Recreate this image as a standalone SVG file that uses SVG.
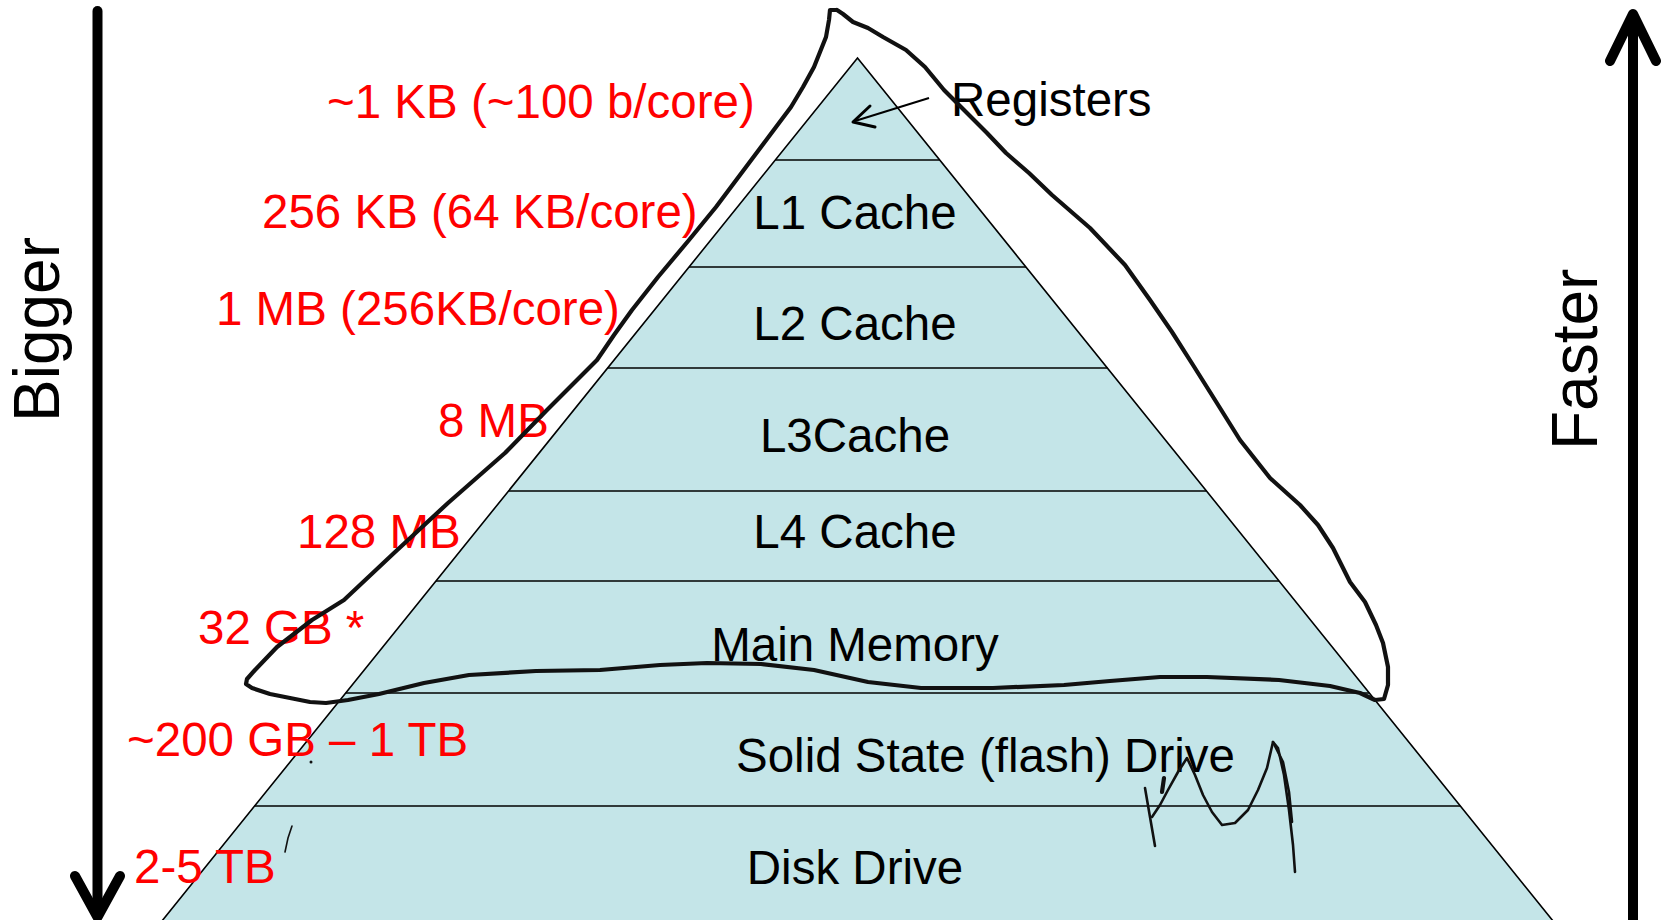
<svg xmlns="http://www.w3.org/2000/svg" width="1661" height="920" viewBox="0 0 1661 920">
<style>
.lbl{font-family:"Liberation Sans",Arial,sans-serif;font-size:47.5px;fill:#000}
.red{font-family:"Liberation Sans",Arial,sans-serif;font-size:47.5px;fill:#ff0000}
.axis{font-family:"Liberation Sans",Arial,sans-serif;font-size:64px;fill:#000}
.div{stroke:#000;stroke-width:1.6;fill:none}
.ink{fill:none;stroke:#111;stroke-width:4.2;stroke-linecap:round;stroke-linejoin:round}
.thin{fill:none;stroke:#111;stroke-width:2.6;stroke-linecap:round;stroke-linejoin:round}
.bigarrow{fill:none;stroke:#000;stroke-width:10;stroke-linecap:round;stroke-linejoin:round}
</style>
<rect width="1661" height="920" fill="#fff"/>
<g id="pyramid">
<polygon points="857.5,58 1560.3,930 154.7,930" fill="#c4e5e8" stroke="#000" stroke-width="1.6"/>
<g id="registers"><text class="lbl" x="951" y="116">Registers</text></g>
<g id="l1"><line class="div" x1="775.3" y1="160" x2="939.7" y2="160"/><text class="lbl" x="855" y="229" text-anchor="middle">L1 Cache</text></g>
<g id="l2"><line class="div" x1="689" y1="267" x2="1026" y2="267"/><text class="lbl" x="855" y="340" text-anchor="middle">L2 Cache</text></g>
<g id="l3"><line class="div" x1="607.6" y1="368" x2="1107.4" y2="368"/><text class="lbl" x="855" y="452" text-anchor="middle">L3Cache</text></g>
<g id="l4"><line class="div" x1="508.5" y1="491" x2="1206.5" y2="491"/><text class="lbl" x="855" y="548" text-anchor="middle">L4 Cache</text></g>
<g id="mainmem"><line class="div" x1="436" y1="581" x2="1279" y2="581"/><text class="lbl" x="855" y="661" text-anchor="middle">Main Memory</text></g>
<g id="ssd"><line class="div" x1="345.7" y1="693" x2="1369.3" y2="693"/><text class="lbl" x="736" y="772">Solid State (flash) Drive</text></g>
<g id="disk"><line class="div" x1="254.6" y1="806" x2="1460.4" y2="806"/><text class="lbl" x="855" y="884" text-anchor="middle">Disk Drive</text></g>
</g>
<g id="sizes">
<text class="red" x="327" y="118">~1 KB (~100 b/core)</text>
<text class="red" x="262" y="228">256 KB (64 KB/core)</text>
<text class="red" x="216" y="325">1 MB (256KB/core)</text>
<text class="red" x="438" y="437">8 MB</text>
<text class="red" x="297" y="548">128 MB</text>
<text class="red" x="198" y="644">32 GB *</text>
<text class="red" x="127" y="756">~200 GB – 1 TB</text>
<text class="red" x="134" y="883">2-5 TB</text>
</g>
<g id="bigger"><text class="axis" transform="translate(59,422) rotate(-90)">Bigger</text></g>
<g id="faster"><text class="axis" transform="translate(1597,450) rotate(-90)">Faster</text></g>
<g id="connectors">
<line class="bigarrow" x1="97.5" y1="11" x2="97.5" y2="914"/>
<polyline class="bigarrow" points="75,876 97.5,917 120,876"/>
<line class="bigarrow" x1="1633" y1="920" x2="1633" y2="16"/>
<polyline class="bigarrow" points="1610,61 1633,14 1656,61"/>
<line x1="929" y1="98" x2="855" y2="121" stroke="#000" stroke-width="2"/>
<polyline points="870,106 853,122 875,127" fill="none" stroke="#000" stroke-width="3" stroke-linecap="round" stroke-linejoin="round"/>
</g>
<g id="handwriting">
<polyline class="ink" points="837,10 830,10 829,20 826,37 820,52 814,67 803,87 791,107 776,127 761,147 746,167 731,187 716,207 689,240 658,277 632,310 614,335 597,360 572,385 547,410 505,453 448,503 394,553 344,600 312,620 277,647 255,670 247,679 246,684 252,688 270,694 290,698 310,702 326,703 348,700 379,694 424,683 469,675 536,671 600,670 660,665 707,663 761,664 814,670 868,682 921,688 993,688 1064,685 1110,681 1160,677 1207,677 1279,680 1330,686 1360,693 1375,700 1384,699 1388,685 1388,667 1383,643 1376,625 1365,602 1350,582 1333,548 1318,525 1300,505 1270,478 1240,440 1215,400 1193,365 1172,332 1150,300 1125,265 1090,228 1052,195 1029,173 1006,153 987,133 967,113 944,90 925,67 906,50 883,37 868,28 853,22 843,14 837,10"/>
<polyline class="thin" points="1145,788 1150,817 1155,846"/>
<polyline class="thin" points="1152,817 1160,805 1168,790 1178,772 1187,758 1195,775 1203,795 1212,812 1222,825 1235,823 1248,810 1258,790 1267,768 1273,742 1278,748 1284,775 1289,810 1293,845 1295,872"/>
<polyline class="thin" points="1273,742 1283,762 1289,792 1292,822"/>
<polyline class="ink" points="1164,778 1162,792"/>
<circle cx="311" cy="762" r="1.5" fill="#111"/>
<polyline points="292,826 288,838 285,852" fill="none" stroke="#111" stroke-width="1.6" stroke-linecap="round"/>
</g>
</svg>
